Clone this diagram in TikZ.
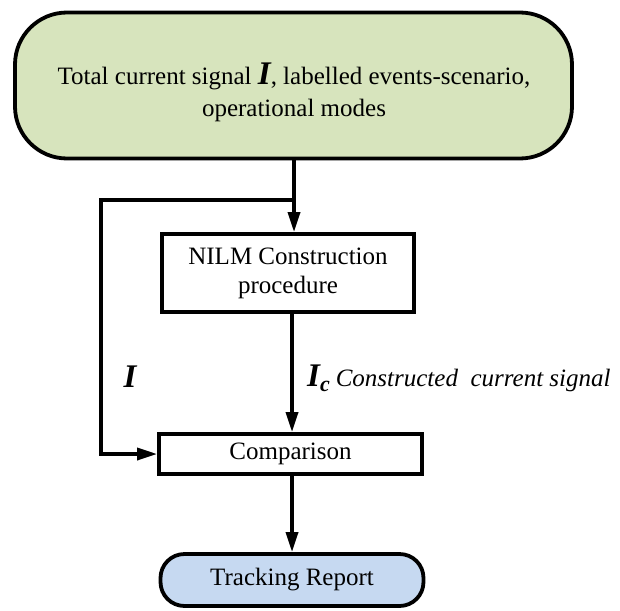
\documentclass[tikz,border=0pt]{standalone}
\usepackage{fontspec}
\setmainfont{Liberation Serif}
\usetikzlibrary{arrows.meta}
\definecolor{topgreen}{HTML}{D7E4BD}
\definecolor{endblue}{HTML}{C6D9F1}
\tikzset{
  boxline/.style={draw=black, line width=3.8pt},
  startbox/.style={boxline, fill=topgreen, rounded corners=52pt, minimum width=557pt, minimum height=146pt, inner sep=0pt},
  procbox/.style={boxline, fill=white, inner sep=0pt, align=center},
  endbox/.style={boxline, fill=endblue, rounded corners=24pt, minimum width=263pt, minimum height=52pt, inner sep=0pt},
  conn/.style={line width=3.5pt, line join=miter},
  arr/.style={conn, -{Triangle[length=20pt,width=12pt]}},
  lbl/.style={inner sep=0pt, font=\fontsize{25}{30}\selectfont}
}
\begin{document}
\begin{tikzpicture}[x=1pt, y=-1pt, font=\fontsize{25}{30}\selectfont]
\useasboundingbox (0,0) rectangle (620,610);
% boxes
\node[startbox] (top) at (293.5,85.5) {};
\node[lbl, align=center, font=\fontsize{25}{32}\selectfont] (toptext) at (294,92)
  {Total current signal {\fontsize{33}{32}\selectfont\bfseries\itshape I}, labelled\ events-scenario,\\ operational modes};
\node[procbox, minimum width=252pt, minimum height=78pt] (nilm) at (288,273) {NILM Construction\\[-1pt]procedure};
\node[procbox, minimum width=263pt, minimum height=40pt] (cmp) at (290.5,454) {Comparison};
\node[endbox] (trk) at (292,580) {Tracking Report};
% coordinates
\coordinate (j) at (294,200);
\coordinate (l) at (101,200);
% connectors
\draw[arr] (top.south -| j) -- (j |- nilm.north);
\draw[conn] (j) -- (l) -- (l |- cmp.west);
\draw[arr] ([xshift=-1.75pt]l |- cmp.west) -- (cmp.west);
\draw[arr] ([xshift=4pt]nilm.south) -- ([xshift=4pt]nilm.south |- cmp.north);
\draw[arr] ([xshift=1.5pt]cmp.south) -- ([xshift=1.5pt]cmp.south |- trk.north);
% labels
\node[lbl, anchor=base] (ilbl) at (130,387) {\fontsize{33}{33}\selectfont\bfseries\itshape I};
\node[lbl, anchor=base west] (iclbl) at (307,386)
  {{\fontsize{33}{33}\selectfont\bfseries\itshape I}{\fontsize{22}{22}\selectfont\bfseries\itshape\raisebox{-5pt}{c}}\hspace{6pt}{\itshape Constructed\ \ current signal}};
\end{tikzpicture}
\end{document}
